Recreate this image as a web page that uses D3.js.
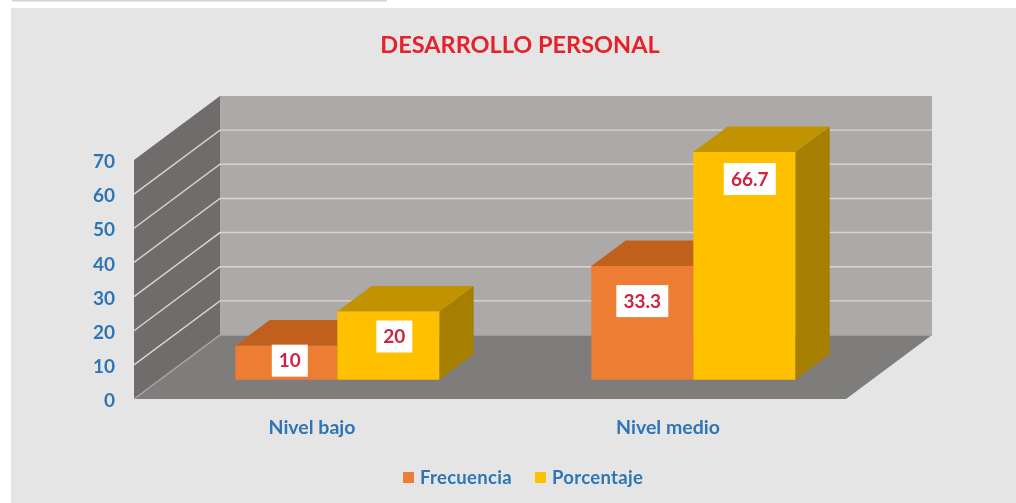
<!DOCTYPE html>
<html>
<head>
<meta charset="utf-8">
<script src="https://cdn.jsdelivr.net/npm/d3@7"></script>
<style>
  html, body { margin: 0; padding: 0; background: #fff; overflow: hidden; }
  text { font-family: Lato, "Open Sans", sans-serif; font-weight: 700; }
</style>
</head>
<body>
<div id="chart"></div>
<script>
var categories = ["Nivel bajo", "Nivel medio"];
var seriesNames = ["Frecuencia", "Porcentaje"];
var frecuencia = [10, 33.3];
var porcentaje = [20, 66.7];
var yTicks = [0, 10, 20, 30, 40, 50, 60, 70];
var chartTitle = "DESARROLLO PERSONAL";

var width = 1016, height = 503;

var svg = d3.select("#chart").append("svg")
    .attr("width", width)
    .attr("height", height)
    .style("display", "block");

// the reference is a soft, scanned looking picture
var blur = svg.append("defs").append("filter").attr("id", "soft");
blur.append("feGaussianBlur").attr("stdDeviation", 0.7);

var root = svg.append("g").attr("filter", "url(#soft)");

// bit of the cut off line of text above the panel
root.append("rect")
    .attr("x", 12).attr("y", 0)
    .attr("width", 375).attr("height", 1.5)
    .attr("fill", "#d2d2d2");

root.append("rect")
    .attr("x", 11).attr("y", 8)
    .attr("width", width).attr("height", height)
    .attr("fill", "#e5e5e5");

root.append("text")
    .attr("x", 520).attr("y", 53)
    .attr("text-anchor", "middle")
    .attr("font-size", 23.5)
    .attr("fill", "#e3202c")
    .text(chartTitle);

// front plane scales, plus an oblique offset for the depth
var x = d3.scaleBand().domain(categories).range([134, 846]);
var xInner = d3.scaleBand().domain(seriesNames)
    .range([x.bandwidth() / 2 - 100.5, x.bandwidth() / 2 + 103.5]);
var y = d3.scaleLinear().domain([0, 70]).range([399, 160]);
var depthX = d3.scaleLinear().domain([0, 1]).range([0, 86]);
var depthY = d3.scaleLinear().domain([0, 1]).range([0, -64]);

var barNear = 0.3, barFar = 0.7;

function pt(px, value, d) {
    return [px + depthX(d), y(value) + depthY(d)];
}

var poly = d3.line();
var xMin = x.range()[0], xMax = x.range()[1];

function face(points, fill, parent) {
    (parent || root).append("path")
        .attr("d", poly(points) + "Z")
        .attr("fill", fill);
}

// walls and floor
face([pt(xMin, 0, 0), pt(xMin, 70, 0), pt(xMin, 70, 1), pt(xMin, 0, 1)], "#6f6c6c");
face([pt(xMin, 0, 1), pt(xMin, 70, 1), pt(xMax, 70, 1), pt(xMax, 0, 1)], "#aca9a8");
face([pt(xMin, 0, 0), pt(xMin, 0, 1), pt(xMax, 0, 1), pt(xMax, 0, 0)], "#7f7d7c");

// gridlines run along the side wall and then the back wall
root.append("g").selectAll("path")
    .data(yTicks.slice(0, -1))
    .join("path")
    .attr("d", function (d) {
        return poly([pt(xMin, d, 0), pt(xMin, d, 1), pt(xMax, d, 1)]);
    })
    .attr("fill", "none")
    .attr("stroke", function (d) { return d === 0 ? "#a9a7a6" : "#d8d6d5"; })
    .attr("stroke-width", 1.4);

var barColors = {
    Frecuencia: { front: "#ed7d31", top: "#c0601f", side: "#a85a20" },
    Porcentaje: { front: "#ffc000", top: "#c29300", side: "#a67f00" }
};

var rows = [];
categories.forEach(function (c, i) {
    rows.push({ category: c, series: "Frecuencia", value: frecuencia[i] });
    rows.push({ category: c, series: "Porcentaje", value: porcentaje[i] });
});

var bars = root.append("g").selectAll("g")
    .data(rows)
    .join("g");

bars.each(function (d) {
    var g = d3.select(this);
    var x0 = x(d.category) + xInner(d.series) - 2;
    var x1 = x0 + xInner.bandwidth();
    var c = barColors[d.series];
    face([pt(x1, 0, barNear), pt(x1, d.value, barNear), pt(x1, d.value, barFar), pt(x1, 0, barFar)], c.side, g);
    face([pt(x0, d.value, barNear), pt(x0, d.value, barFar), pt(x1, d.value, barFar), pt(x1, d.value, barNear)], c.top, g);
    face([pt(x0, 0, barNear), pt(x0, d.value, barNear), pt(x1, d.value, barNear), pt(x1, 0, barNear)], c.front, g);
});

// labels were dragged by hand in the original, so each has its own nudge
var labelNudge = [[1.5, 15], [4, 25], [-2, 35], [3.5, 27]];

var labels = root.append("g").selectAll("g")
    .data(rows)
    .join("g")
    .attr("transform", function (d, i) {
        var p = pt(x(d.category) + xInner(d.series) + xInner.bandwidth() / 2, d.value, barNear);
        return "translate(" + (p[0] + labelNudge[i][0]) + "," + (p[1] + labelNudge[i][1]) + ")";
    });

labels.append("rect")
    .attr("x", function (d) { return d.value % 1 ? -26 : -18; })
    .attr("y", -16)
    .attr("width", function (d) { return d.value % 1 ? 52 : 36; })
    .attr("height", 32)
    .attr("fill", "#fff");

labels.append("text")
    .attr("text-anchor", "middle")
    .attr("dy", 6.5)
    .attr("font-size", 19)
    .attr("fill", "#d0213f")
    .text(function (d) { return d.value; });

// value axis
var yAxis = root.append("g")
    .attr("transform", "translate(134,1.5)")
    .call(d3.axisLeft(y).tickValues(yTicks).tickSize(0).tickPadding(19).tickFormat(d3.format("d")));
yAxis.select(".domain").remove();
yAxis.selectAll("text")
    .attr("font-size", 19)
    .attr("font-family", "Lato, sans-serif")
    .attr("fill", "#2e75b6");

// category labels
root.append("g").selectAll("text")
    .data(categories)
    .join("text")
    .attr("x", function (d) { return x(d) + x.bandwidth() / 2; })
    .attr("y", 434)
    .attr("text-anchor", "middle")
    .attr("font-size", 19.5)
    .attr("fill", "#2e75b6")
    .text(function (d) { return d; });

// legend
var legendX = d3.scaleOrdinal().domain(seriesNames).range([403, 535]);
var legend = root.append("g").selectAll("g")
    .data(seriesNames)
    .join("g")
    .attr("transform", function (d) { return "translate(" + legendX(d) + ",472)"; });

legend.append("rect")
    .attr("width", 11).attr("height", 11)
    .attr("fill", function (d) { return barColors[d].front; });

legend.append("text")
    .attr("x", 17).attr("y", 12)
    .attr("font-size", 18.5)
    .attr("letter-spacing", 0.3)
    .attr("fill", "#2e75b6")
    .text(function (d) { return d; });
</script>
</body>
</html>
